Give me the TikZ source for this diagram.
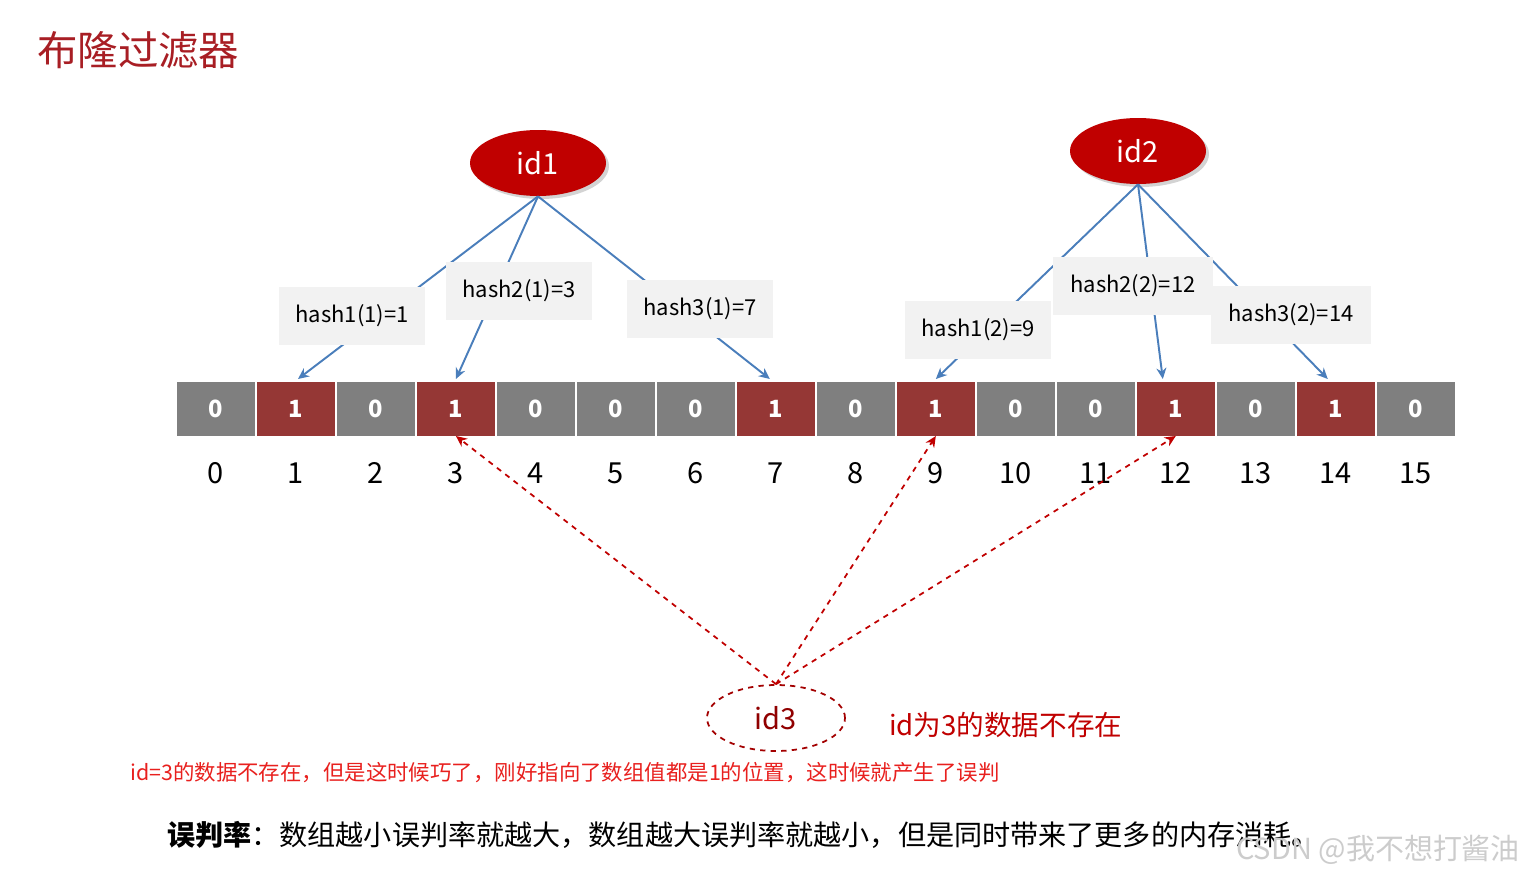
\documentclass[tikz,border=0pt]{standalone}
\usepackage{fontspec}
\setmainfont{Noto Sans CJK SC}
\usetikzlibrary{shapes,arrows,arrows.meta,positioning,calc,shadows}

\definecolor{bitgray}{HTML}{7F7F7F}
\definecolor{bitred}{HTML}{953735}
\definecolor{idred}{HTML}{C00000}
\definecolor{linkblue}{HTML}{4A7EBB}
\definecolor{hashgray}{HTML}{F2F2F2}
\definecolor{titlered}{HTML}{A81E24}
\definecolor{notered}{HTML}{E8201E}

\begin{document}
\begin{tikzpicture}[x=0.02cm, y=-0.02cm, node distance=0.04cm, >={Stealth[length=0.22cm, width=0.2cm]},
    bit/.style={rectangle, inner sep=0pt, outer sep=0pt, minimum width=1.56cm, minimum height=1.08cm,
        text=white, font=\fontsize{13.5}{16}\selectfont\bfseries},
    zero/.style={bit, fill=bitgray},
    one/.style={bit, fill=bitred},
    idx/.style={inner sep=0pt, text height=12pt, text depth=0pt, font=\fontsize{16.5}{20}\selectfont},
    idnode/.style={ellipse, fill=idred, text=white, minimum width=2.72cm, minimum height=1.32cm,
        font=\fontsize{16.5}{20}\selectfont,
        drop shadow={opacity=0.35, shadow xshift=0.06cm, shadow yshift=-0.06cm}},
    hashbox/.style={rectangle, fill=hashgray, inner xsep=0.34cm, minimum height=1.18cm,
        font=\fontsize{12.5}{15}\selectfont},
    link/.style={linkblue, line width=1.1pt},
    miss/.style={->, idred, dashed, line width=1pt}]
    \useasboundingbox (0,0) rectangle (1525,876);

    \node[anchor=west, text=titlered, font=\fontsize{23}{27}\selectfont] (title) at (31,50) {布隆过滤器};

    % bit array
    \node[zero] (c0) at (216,409) {0};
    \node[one, right=of c0] (c1) {1};
    \node[zero, right=of c1] (c2) {0};
    \node[one, right=of c2] (c3) {1};
    \node[zero, right=of c3] (c4) {0};
    \node[zero, right=of c4] (c5) {0};
    \node[zero, right=of c5] (c6) {0};
    \node[one, right=of c6] (c7) {1};
    \node[zero, right=of c7] (c8) {0};
    \node[one, right=of c8] (c9) {1};
    \node[zero, right=of c9] (c10) {0};
    \node[zero, right=of c10] (c11) {0};
    \node[one, right=of c11] (c12) {1};
    \node[zero, right=of c12] (c13) {0};
    \node[one, right=of c13] (c14) {1};
    \node[zero, right=of c14] (c15) {0};
    \foreach \i in {0,...,15}
        \node[idx, below=0.52cm of c\i] (i\i) {\i};

    % elements
    \node[idnode] (id1) at (538,163) {id1};
    \node[idnode] (id2) at (1138,151) {id2};
    \node[ellipse, draw=idred!85!black, dashed, line width=1pt, fill=white, text=idred!75!black,
        minimum width=2.76cm, minimum height=1.32cm, font=\fontsize{16.5}{20}\selectfont] (id3) at (776,718) {id3};

    \draw[link, ->] (id1.south) -- ($(c1.north)+(2,-3)$);
    \draw[link, ->] (id1.south) -- ($(c3.north)+(0,-3)$);
    \draw[link, ->] (id1.south) -- ($(c7.north)+(-6,-3)$);
    \draw[link, ->] (id2.south) -- ($(c9.north)+(0,-3)$);
    \draw[link, ->] (id2.south) -- ($(c12.north)+(-13,-3)$);
    \draw[link, ->] (id2.south) -- ($(c14.north)+(-8,-3)$);

    \node[hashbox] (h11) at (352,316) {hash1(1)=1};
    \node[hashbox] (h21) at (519,291) {hash2(1)=3};
    \node[hashbox] (h31) at (700,309) {hash3(1)=7};
    \node[hashbox] (h12) at (978,330) {hash1(2)=9};
    \node[hashbox] (h22) at (1133,286) {hash2(2)=12};
    \node[hashbox] (h32) at (1291,315) {hash3(2)=14};

    \draw[miss] (id3.north) -- (c3.south);
    \draw[miss] (id3.north) -- (c9.south);
    \draw[miss] (id3.north) -- (c12.south);

    \node[anchor=west, text=idred, font=\fontsize{15.7}{19}\selectfont] (absent) at (883,725) {id为3的数据不存在};
    \node[anchor=west, text=notered, font=\fontsize{12.2}{15}\selectfont] (note) at (124,773)
        {id=3的数据不存在，但是这时候巧了，刚好指向了数组值都是1的位置，这时候就产生了误判};
    \node[anchor=west, font=\fontsize{16}{19}\selectfont] (rate) at (161,835)
        {\textbf{误判率}：数组越小误判率就越大，数组越大误判率就越小，但是同时带来了更多的内存消耗。};
    \node[anchor=west, text=gray!40, font=\fontsize{16.5}{20}\selectfont] (mark) at (1230,850) {CSDN @我不想打酱油};
\end{tikzpicture}
\end{document}
